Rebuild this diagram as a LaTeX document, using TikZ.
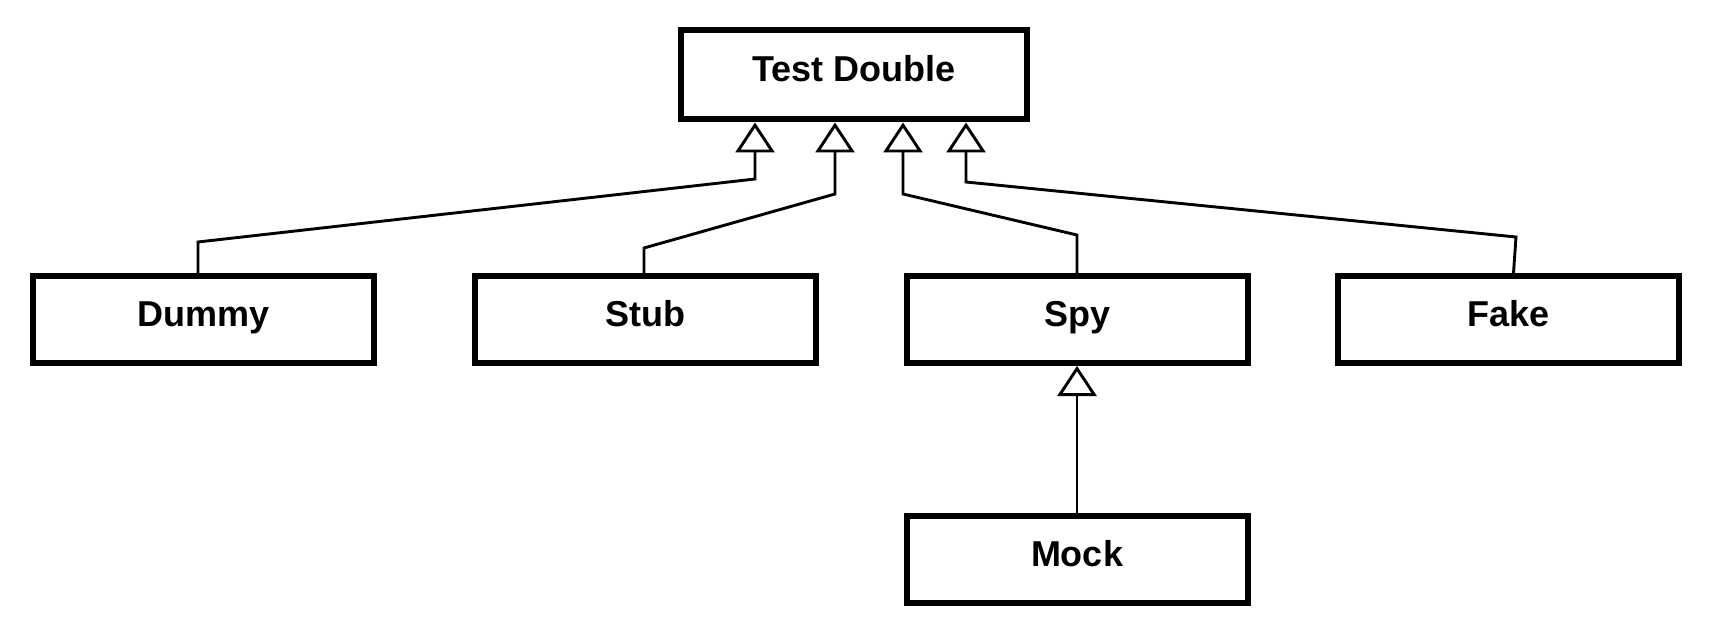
\documentclass[tikz,border=0pt]{standalone}
\usepackage{fontspec}
\setmainfont{Liberation Sans}
\usetikzlibrary{arrows.meta,calc}

\begin{document}
\begin{tikzpicture}[x=1pt,y=-1pt,
    cls/.style={draw,line width=6pt,minimum width=341pt,minimum height=87pt,inner sep=0pt,text height=26pt,text depth=12pt,font=\fontsize{36}{43}\selectfont\bfseries},
    gen/.style={line width=2.9pt,line join=miter,-{Triangle[open,length=30pt,width=39pt]}}]

	\useasboundingbox (0,0) rectangle (1713,636);

	\node[cls,minimum width=346pt,minimum height=89pt] (td) at (854,75) {Test Double};
	\node[cls] (dummy) at (203.5,319.5) {Dummy};
	\node[cls] (stub) at (645.5,319.5) {Stub};
	\node[cls] (spy) at (1077,319.5) {Spy};
	\node[cls] (fake) at (1508.5,319.5) {Fake};
	\node[cls] (mock) at (1077,559) {Mock};

	\draw[gen] ([xshift=-5.5pt]dummy.north) -- (198,242) -- (755,179) -- ($(td.south)+(-99,0)$);
	\draw[gen] ([xshift=-1.5pt]stub.north) -- (644,248) -- (835,194) -- ($(td.south)+(-19,0)$);
	\draw[gen] (spy.north) -- (1077,235) -- (903,194) -- ($(td.south)+(49,0)$);
	\draw[gen] ([xshift=5pt]fake.north) -- (1516,237) -- (966,182) -- ($(td.south)+(112,0)$);
	\draw[gen] (mock.north) -- (spy.south);

\end{tikzpicture}
\end{document}
